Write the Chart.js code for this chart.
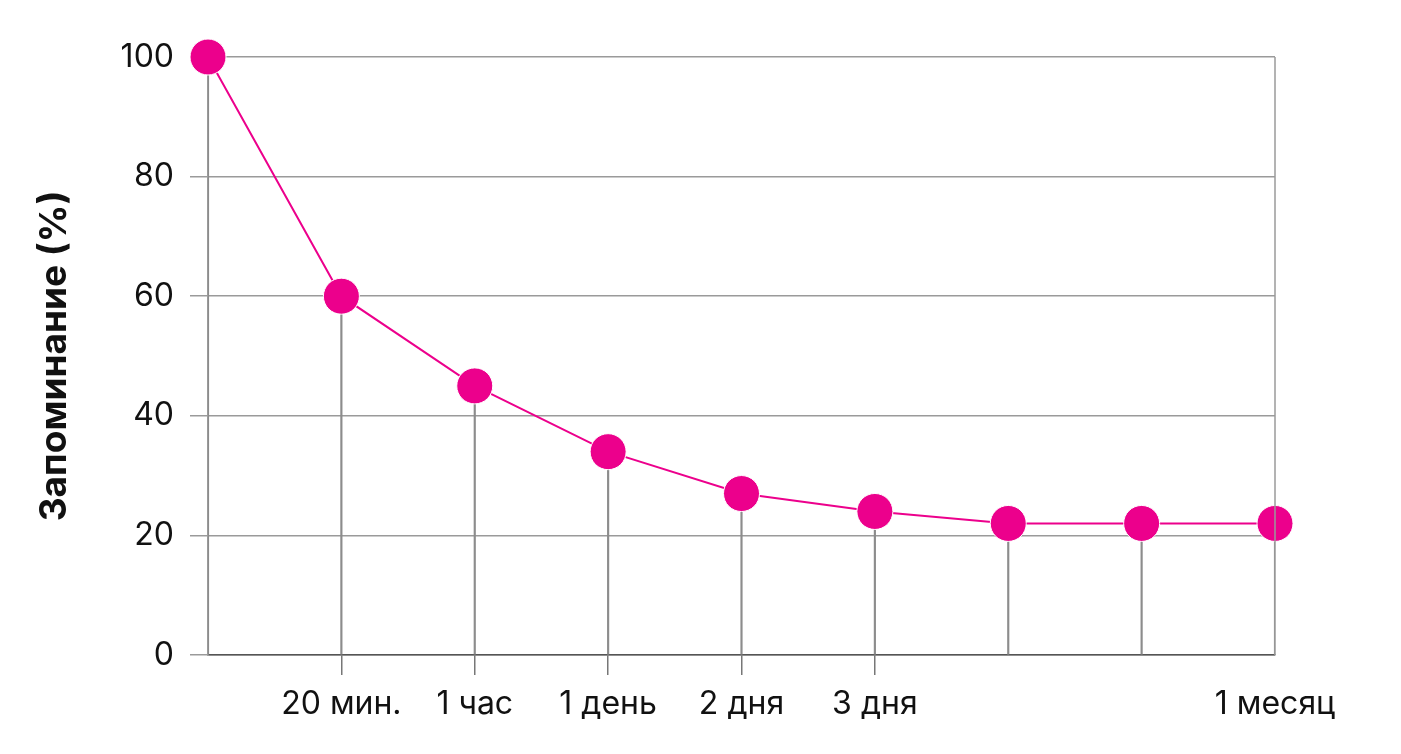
<!DOCTYPE html>
<html>
<head>
<meta charset="utf-8">
<script src="https://cdn.jsdelivr.net/npm/chart.js@4/dist/chart.umd.min.js"></script>
<style>
  html, body { margin: 0; padding: 0; background: #fff; }
  #wrap { width: 1401px; height: 754px; }
</style>
</head>
<body>
<div id="wrap"><canvas id="chart" width="1401" height="754"></canvas></div>
<script>
// forgetting curve
const labels = ['', '20 мин.', '1 час', '1 день', '2 дня', '3 дня', '', '', '1 месяц'];
const recall = [100, 60, 45, 34, 27, 24, 22, 22, 22];
const yTicks = [0, 20, 40, 60, 80, 100];

const pink = '#ec008c';
const grey = '#9a9a9a';

// right edge of the plot frame
const frame = {
    id: 'frame',
    afterDatasetsDraw(chart) {
        const { ctx, chartArea } = chart;
        ctx.save();
        ctx.strokeStyle = grey;
        ctx.lineWidth = 1.5;
        ctx.beginPath();
        ctx.moveTo(chartArea.right, chartArea.top);
        ctx.lineTo(chartArea.right, chartArea.bottom);
        ctx.stroke();
        ctx.restore();
    }
};

const ctx = document.getElementById('chart').getContext('2d');
let chart = new Chart(ctx, {
    data: {
        labels: labels,
        datasets: [
            {
                type: 'line',
                data: recall,
                borderColor: pink,
                borderWidth: 2,
                pointRadius: 18,
                pointBackgroundColor: pink,
                pointBorderColor: '#fff',
                pointBorderWidth: 1,
                clip: false,
                order: 0
            },
            {
                // drop lines under each point
                type: 'bar',
                data: recall,
                backgroundColor: '#8c8c8c',
                barThickness: 1.5,
                order: 1
            }
        ]
    },
    plugins: [frame],
    options: {
        responsive: false,
        animation: false,
        layout: { padding: { top: 57, right: 126, bottom: 0, left: 0 } },
        plugins: { legend: { display: false }, tooltip: { enabled: false } },
        scales: {
            x: {
                type: 'category',
                offset: false,
                grid: {
                    offset: false,
                    drawOnChartArea: false,
                    tickLength: 20,
                    lineWidth: 1.5,
                    // no tick under the first, unlabeled and last points
                    tickColor: c => (labels[c.index] && c.index < labels.length - 1 ? '#777' : 'rgba(0,0,0,0)')
                },
                border: { color: '#555', width: 1.5 },
                ticks: {
                    color: '#111',
                    padding: 10,
                    maxRotation: 0,
                    autoSkip: false,
                    font: { family: 'Inter', size: 32 }
                },
                afterFit: s => { s.height = 99; }
            },
            y: {
                min: 0,
                max: 100,
                afterBuildTicks: s => { s.ticks = yTicks.map(v => ({ value: v })); },
                grid: {
                    color: grey,
                    lineWidth: 1.5,
                    tickLength: 18,
                    drawOnChartArea: true
                },
                border: { color: grey, width: 1.5 },
                ticks: {
                    color: '#111',
                    padding: 16,
                    font: { family: 'Inter', size: 32 }
                },
                title: {
                    display: true,
                    text: 'Запоминание (%)',
                    color: '#111',
                    padding: { top: 33, bottom: 0 },
                    font: { family: 'Inter', size: 37, weight: 'bold' }
                },
                afterFit: s => { s.width = 208; }
            }
        }
    }
});
</script>
</body>
</html>
